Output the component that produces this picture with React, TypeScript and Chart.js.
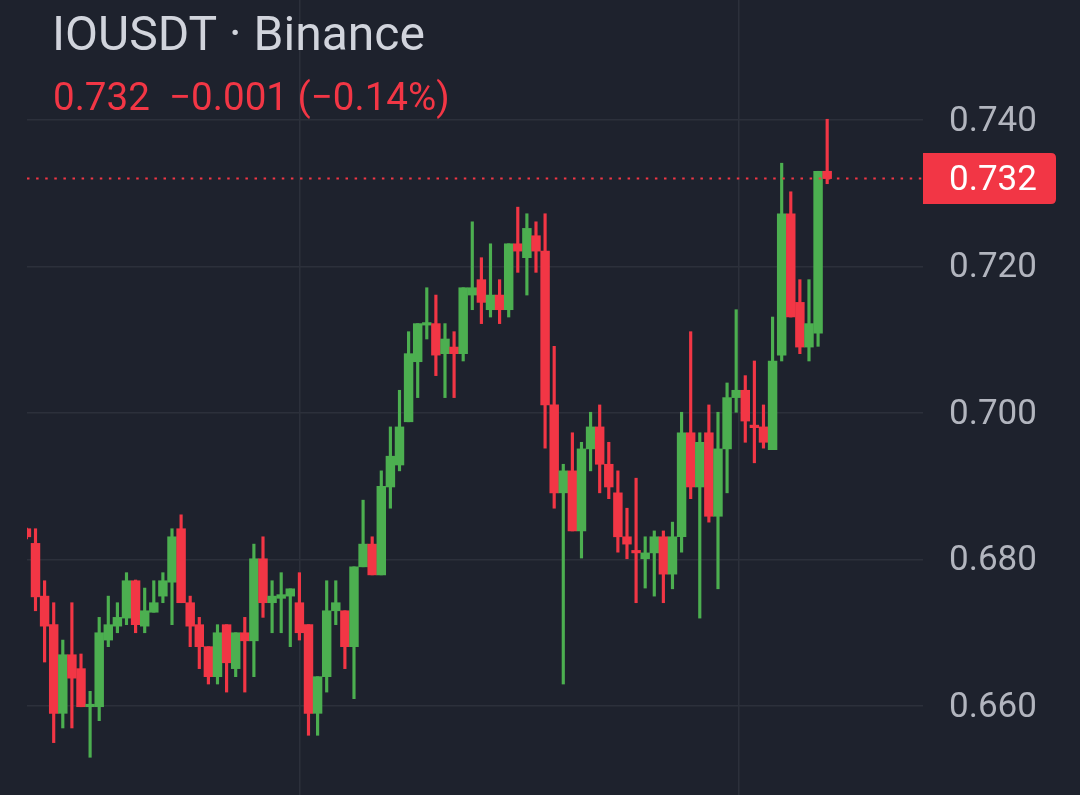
import { useEffect, useRef } from 'react';
import { Chart, registerables } from 'chart.js';

Chart.register(...registerables);

const SYMBOL_TITLE = 'IOUSDT · Binance';
const CHANGE_TEXT = '0.732  −0.001 (−0.14%)';
const LAST_PRICE = 0.732;
const LAST_PRICE_LABEL = '0.732';
const Y_TICKS = [0.66, 0.68, 0.7, 0.72, 0.74];
const TIME_GRID = [30.07, 78.23];

const OPEN = [
  0.6842, 0.6822, 0.675, 0.6711, 0.659, 0.667, 0.6651, 0.6599, 0.6599, 0.669,
  0.6709, 0.672, 0.6771, 0.6709, 0.6728, 0.675, 0.6769, 0.6842, 0.6741, 0.6711,
  0.6681, 0.664, 0.6711, 0.6651, 0.67, 0.6689, 0.6801, 0.6741, 0.6747, 0.675,
  0.6741, 0.6711, 0.659, 0.664, 0.673, 0.673, 0.6681, 0.679, 0.6821, 0.6779,
  0.6899, 0.6929, 0.6988, 0.707, 0.712, 0.7122, 0.7081, 0.709, 0.7081, 0.7161,
  0.7182, 0.7141, 0.7161, 0.7141, 0.7231, 0.7212, 0.7242, 0.7221, 0.7011, 0.6891,
  0.6921, 0.6839, 0.6951, 0.6981, 0.693, 0.6891, 0.6831, 0.6812, 0.6801, 0.6809,
  0.6831, 0.678, 0.6831, 0.6973, 0.6899, 0.6973, 0.6859, 0.6951, 0.7021, 0.7031,
  0.6981, 0.6981, 0.695, 0.7079, 0.7272, 0.7151, 0.709, 0.7109, 0.733,
];
const HIGH = [
  0.6843, 0.6842, 0.6771, 0.6741, 0.669, 0.6741, 0.6671, 0.662, 0.6721, 0.675,
  0.6741, 0.6782, 0.6772, 0.6761, 0.6771, 0.6782, 0.6842, 0.6861, 0.675, 0.6721,
  0.6681, 0.6711, 0.6711, 0.67, 0.6721, 0.6821, 0.6831, 0.6771, 0.6782, 0.676,
  0.6782, 0.6711, 0.664, 0.6771, 0.6771, 0.673, 0.679, 0.6881, 0.6831, 0.6921,
  0.6981, 0.7031, 0.7111, 0.7122, 0.7171, 0.7161, 0.7122, 0.7111, 0.7171, 0.7261,
  0.7212, 0.7231, 0.7182, 0.7231, 0.7281, 0.7272, 0.7261, 0.7272, 0.7091, 0.693,
  0.6973, 0.696, 0.7001, 0.7011, 0.696, 0.6921, 0.687, 0.6911, 0.6831, 0.6839,
  0.6839, 0.6851, 0.7001, 0.7111, 0.6973, 0.7011, 0.7001, 0.7041, 0.7141, 0.7051,
  0.7071, 0.7011, 0.7131, 0.7341, 0.7302, 0.7182, 0.7182, 0.733, 0.7401,
];
const LOW = [
  0.6828, 0.673, 0.666, 0.655, 0.657, 0.657, 0.6599, 0.653, 0.658, 0.6681,
  0.67, 0.6711, 0.67, 0.67, 0.6728, 0.6741, 0.6711, 0.6741, 0.6681, 0.6651,
  0.663, 0.663, 0.6619, 0.664, 0.6619, 0.664, 0.6721, 0.67, 0.67, 0.6681,
  0.669, 0.656, 0.656, 0.6619, 0.6711, 0.6651, 0.661, 0.679, 0.6779, 0.6779,
  0.687, 0.6921, 0.6988, 0.7021, 0.7101, 0.7051, 0.7021, 0.7021, 0.7071, 0.7141,
  0.7122, 0.7131, 0.7122, 0.7131, 0.7192, 0.7161, 0.7192, 0.6952, 0.687, 0.663,
  0.6839, 0.6802, 0.6921, 0.6891, 0.6883, 0.681, 0.6801, 0.6741, 0.6761, 0.675,
  0.6741, 0.676, 0.681, 0.6883, 0.672, 0.6851, 0.676, 0.6891, 0.7001, 0.696,
  0.6932, 0.6952, 0.695, 0.7071, 0.7131, 0.7081, 0.7071, 0.7091, 0.7313,
];
const CLOSE = [
  0.6831, 0.6749, 0.6709, 0.659, 0.667, 0.6638, 0.6599, 0.6601, 0.67, 0.6711,
  0.6721, 0.6771, 0.6711, 0.673, 0.6741, 0.6771, 0.6831, 0.6741, 0.6709, 0.6681,
  0.664, 0.67, 0.6659, 0.67, 0.6689, 0.6801, 0.6741, 0.675, 0.6752, 0.676,
  0.67, 0.659, 0.664, 0.673, 0.6741, 0.6681, 0.679, 0.6821, 0.6779, 0.69,
  0.6941, 0.6981, 0.7081, 0.7122, 0.7123, 0.7079, 0.7101, 0.7081, 0.7171, 0.7171,
  0.7151, 0.7161, 0.7141, 0.7231, 0.7221, 0.7252, 0.7221, 0.7011, 0.6891, 0.6921,
  0.6839, 0.6951, 0.6981, 0.693, 0.6899, 0.6831, 0.6821, 0.6809, 0.6809, 0.6831,
  0.678, 0.6831, 0.6973, 0.6899, 0.696, 0.6859, 0.6951, 0.7021, 0.7031, 0.6989,
  0.698, 0.696, 0.7071, 0.7272, 0.7131, 0.709, 0.7122, 0.733, 0.732,
];

const BG = '#1e222d';
const GRID = '#2c303b';
const UP = '#4caf50';
const DOWN = '#f23645';
const TITLE_COLOR = '#d1d4dc';
const AXIS_TEXT = '#b2b5be';
const FONT = 'Roboto, "Noto Sans", sans-serif';

const overlayPlugin = {
  id: 'overlay',
  afterDatasetsDraw(chart: any) {
    const { ctx, chartArea, scales } = chart;
    const y = scales.y.getPixelForValue(LAST_PRICE);
    ctx.save();
    ctx.strokeStyle = DOWN;
    ctx.lineWidth = 2;
    ctx.setLineDash([2.5, 6.6]);
    ctx.beginPath();
    ctx.moveTo(chartArea.left, y);
    ctx.lineTo(chartArea.right, y);
    ctx.stroke();
    ctx.restore();
  },
  afterDraw(chart: any) {
    const { ctx, chartArea, scales } = chart;
    const y = scales.y.getPixelForValue(LAST_PRICE);
    ctx.save();
    // price tag
    const x0 = chartArea.right;
    const x1 = 1056;
    const h = 51;
    const top = y - h / 2;
    const r = 5;
    ctx.fillStyle = DOWN;
    ctx.beginPath();
    ctx.moveTo(x0, top);
    ctx.lineTo(x1 - r, top);
    ctx.quadraticCurveTo(x1, top, x1, top + r);
    ctx.lineTo(x1, top + h - r);
    ctx.quadraticCurveTo(x1, top + h, x1 - r, top + h);
    ctx.lineTo(x0, top + h);
    ctx.closePath();
    ctx.fill();
    ctx.fillStyle = '#ffffff';
    ctx.font = `35px ${FONT}`;
    ctx.textAlign = 'left';
    ctx.textBaseline = 'middle';
    ctx.fillText(LAST_PRICE_LABEL, chartArea.right + 26, y + 3);
    // header
    ctx.textBaseline = 'alphabetic';
    ctx.fillStyle = TITLE_COLOR;
    ctx.font = `48px ${FONT}`;
    ctx.fillText(SYMBOL_TITLE, 52, 50);
    ctx.fillStyle = DOWN;
    ctx.font = `38.6px ${FONT}`;
    ctx.fillText(CHANGE_TEXT, 53, 110);
    ctx.restore();
  },
};

export default function App() {
  const canvasRef = useRef<HTMLCanvasElement | null>(null);

  useEffect(() => {
    document.body.style.margin = '0';
    document.body.style.background = BG;
    const canvas = canvasRef.current;
    if (!canvas) return;

    const idx = OPEN.map((_, i) => i);
    const colors = idx.map((i) => (CLOSE[i] >= OPEN[i] ? UP : DOWN));

    const chart = new Chart(canvas, {
      type: 'bar',
      data: {
        datasets: [
          {
            label: 'wick',
            data: idx.map((i) => ({ x: i, y: [LOW[i], HIGH[i]] })) as any,
            backgroundColor: colors,
            borderWidth: 0,
            grouped: false,
            barThickness: 2.5,
            maxBarThickness: 2.5,
            minBarLength: 1,
            order: 2,
          } as any,
          {
            label: 'body',
            data: idx.map((i) => ({ x: i, y: [OPEN[i], CLOSE[i]] })) as any,
            backgroundColor: colors,
            borderWidth: 0,
            grouped: false,
            barThickness: 8.8,
            maxBarThickness: 8.8,
            minBarLength: 2.5,
            order: 1,
          } as any,
        ],
      },
      options: {
        animation: false,
        responsive: true,
        maintainAspectRatio: false,
        layout: { padding: { left: 27, top: 0, right: 0, bottom: 0 } },
        plugins: { legend: { display: false }, tooltip: { enabled: false } },
        scales: {
          x: {
            type: 'linear',
            min: 0.066,
            max: 98.53,
            offset: false,
            grid: { color: GRID, drawTicks: false, lineWidth: 1.5, offset: false },
            border: { display: false },
            ticks: { display: false },
            afterBuildTicks: (s: any) => {
              s.ticks = TIME_GRID.map((v) => ({ value: v }));
            },
            afterFit: (s: any) => {
              s.height = 0;
              s.paddingLeft = 0;
              s.paddingRight = 0;
              s.paddingTop = 0;
              s.paddingBottom = 0;
            },
          },
          y: {
            type: 'linear',
            position: 'right',
            min: 0.64785,
            max: 0.75638,
            grid: { color: GRID, drawTicks: false, lineWidth: 1.5 },
            border: { display: false },
            afterBuildTicks: (s: any) => {
              s.ticks = Y_TICKS.map((v) => ({ value: v }));
            },
            afterFit: (s: any) => {
              s.width = 157;
              s.paddingTop = 0;
              s.paddingBottom = 0;
            },
            ticks: {
              color: AXIS_TEXT,
              padding: 26,
              labelOffset: 2,
              font: { family: FONT, size: 35 },
              callback: (v: any) => Number(v).toFixed(3),
            },
          },
        },
      } as any,
      plugins: [overlayPlugin],
    });

    return () => chart.destroy();
  }, []);

  return (
    <div
      style={{
        position: 'fixed',
        left: 0,
        top: 0,
        width: 1080,
        height: 795,
        background: BG,
      }}
    >
      <canvas ref={canvasRef} />
    </div>
  );
}
